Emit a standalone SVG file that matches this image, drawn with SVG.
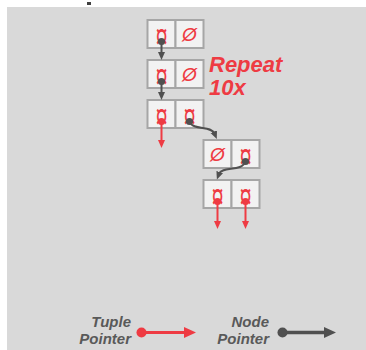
<svg xmlns="http://www.w3.org/2000/svg" width="366" height="350" viewBox="0 0 366 350">
  <style>
    .cell { fill: #f2f2f2; stroke: #a6a6a6; stroke-width: 2; }
    .sym { font-family: "Liberation Sans", "DejaVu Sans", sans-serif; fill: #ee3b43; text-anchor: middle; }
    .tid { font-size: 22px; }
    .nul { font-size: 19px; font-style: italic; }
    .np { stroke: #505050; stroke-width: 2; fill: none; }
    .tp { stroke: #ee3b43; stroke-width: 2; fill: none; }
    .npd { fill: #505050; }
    .tpd { fill: #ee3b43; }
    .rep { font-family: "Liberation Sans", "Arial", sans-serif; font-weight: bold; font-style: italic; font-size: 22px; fill: #ee3b43; }
    .leg { font-family: "Liberation Sans", "Arial", sans-serif; font-weight: bold; font-style: italic; font-size: 15px; fill: #595959; text-anchor: end; }
  </style>
  <defs>
    <marker id="headNode" markerUnits="userSpaceOnUse" markerWidth="9" markerHeight="8" refX="2" refY="3.5" orient="auto">
      <path d="M0,0 L8,3.5 L0,7 z" fill="#505050"/>
    </marker>
    <marker id="headTuple" markerUnits="userSpaceOnUse" markerWidth="9" markerHeight="8" refX="2" refY="3.5" orient="auto">
      <path d="M0,0 L8,3.5 L0,7 z" fill="#ee3b43"/>
    </marker>
    <marker id="headNodeBig" markerUnits="userSpaceOnUse" markerWidth="13" markerHeight="12" refX="2" refY="5.5" orient="auto">
      <path d="M0,0 L12,5.5 L0,11 z" fill="#505050"/>
    </marker>
    <marker id="headTupleBig" markerUnits="userSpaceOnUse" markerWidth="13" markerHeight="12" refX="2" refY="5.5" orient="auto">
      <path d="M0,0 L12,5.5 L0,11 z" fill="#ee3b43"/>
    </marker>
  </defs>

  <!-- canvas -->
  <rect x="0" y="0" width="366" height="350" fill="#ffffff"/>
  <rect x="7" y="7" width="359" height="343" fill="#d9d9d9"/>
  <rect x="87" y="2" width="4" height="3" fill="#404040"/>

  <!-- nodes: each tuple-id glyph is stretched vertically -->
  <g id="node1">
    <rect class="cell" x="147.5" y="20" width="28" height="28"/>
    <rect class="cell" x="175.5" y="20" width="28" height="28"/>
    <text class="sym tid" transform="translate(161.5,48) scale(1,1.6)">¤</text>
    <text class="sym nul" x="189.5" y="41">Ø</text>
  </g>
  <g id="node2">
    <rect class="cell" x="147.5" y="60" width="28" height="28"/>
    <rect class="cell" x="175.5" y="60" width="28" height="28"/>
    <text class="sym tid" transform="translate(161.5,88) scale(1,1.6)">¤</text>
    <text class="sym nul" x="189.5" y="81">Ø</text>
  </g>
  <g id="node3">
    <rect class="cell" x="147.5" y="100" width="28" height="28"/>
    <rect class="cell" x="175.5" y="100" width="28" height="28"/>
    <text class="sym tid" transform="translate(161.5,128) scale(1,1.6)">¤</text>
    <text class="sym tid" transform="translate(189.5,128) scale(1,1.6)">¤</text>
  </g>
  <g id="node4">
    <rect class="cell" x="203.5" y="140" width="28" height="28"/>
    <rect class="cell" x="231.5" y="140" width="28" height="28"/>
    <text class="sym nul" x="217.5" y="161">Ø</text>
    <text class="sym tid" transform="translate(245.5,168) scale(1,1.6)">¤</text>
  </g>
  <g id="node5">
    <rect class="cell" x="203.5" y="180" width="28" height="28"/>
    <rect class="cell" x="231.5" y="180" width="28" height="28"/>
    <text class="sym tid" transform="translate(217.5,208) scale(1,1.6)">¤</text>
    <text class="sym tid" transform="translate(245.5,208) scale(1,1.6)">¤</text>
  </g>

  <text id="repeat-label" class="rep"><tspan x="209" y="72">Repeat</tspan><tspan x="209" y="95">10x</tspan></text>

  <!-- connectors -->
  <g id="connectors">
    <path class="np" d="M161.5,41.5 V54" marker-end="url(#headNode)"/>
    <circle class="npd" cx="161.5" cy="41.5" r="3.6"/>
    <path class="np" d="M161.5,81.5 V94" marker-end="url(#headNode)"/>
    <circle class="npd" cx="161.5" cy="81.5" r="3.6"/>

    <path class="tp" d="M161.5,121.5 V142" marker-end="url(#headTuple)"/>
    <circle class="tpd" cx="161.5" cy="121.5" r="3.6"/>
    <path class="np" d="M189.5,121.5 C193,131 211,125 214.5,133.5" marker-end="url(#headNode)"/>
    <circle class="npd" cx="189.5" cy="121.5" r="3.6"/>

    <path class="np" d="M245.5,161.5 C242,172 222,166 219,174" marker-end="url(#headNode)"/>
    <circle class="npd" cx="245.5" cy="161.5" r="3.6"/>

    <path class="tp" d="M217.5,201.5 V223" marker-end="url(#headTuple)"/>
    <circle class="tpd" cx="217.5" cy="201.5" r="3.6"/>
    <path class="tp" d="M245.5,201.5 V223" marker-end="url(#headTuple)"/>
    <circle class="tpd" cx="245.5" cy="201.5" r="3.6"/>
  </g>

  <!-- legend -->
  <g id="legend-tuple">
    <text class="leg"><tspan x="131" y="327">Tuple</tspan><tspan x="131" y="344">Pointer</tspan></text>
    <path d="M141.5,332.5 H186" stroke="#ee3b43" stroke-width="3" fill="none" marker-end="url(#headTupleBig)"/>
    <circle cx="141.5" cy="332.5" r="5" fill="#ee3b43"/>
  </g>
  <g id="legend-node">
    <text class="leg"><tspan x="269" y="327">Node</tspan><tspan x="269" y="344">Pointer</tspan></text>
    <path d="M282.5,332.5 H326" stroke="#505050" stroke-width="3.5" fill="none" marker-end="url(#headNodeBig)"/>
    <circle cx="282.5" cy="332.5" r="5" fill="#505050"/>
  </g>
</svg>
